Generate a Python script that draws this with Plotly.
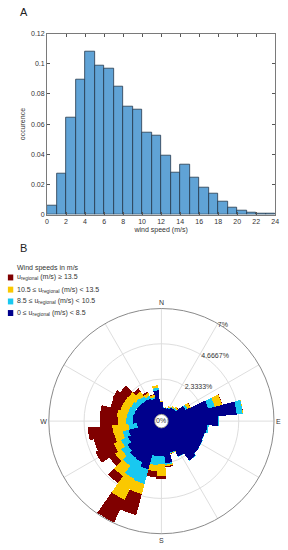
import plotly.graph_objects as go

# ---------------- data ----------------
speed_bin_left = list(range(24))
occurrence = [0.006, 0.027, 0.064, 0.0895, 0.108, 0.0988, 0.0971, 0.0851,
              0.0714, 0.0694, 0.0545, 0.0526, 0.0388, 0.0279, 0.0334, 0.0246,
              0.0177, 0.0137, 0.0085, 0.0046, 0.0024, 0.0013, 0.0009, 0.0005]
hist_xticks = list(range(0, 25, 2))
hist_yticks = [0, 0.02, 0.04, 0.06, 0.08, 0.1, 0.12]
hist_yticktext = ["0", "0.02", "0.04", "0.06", "0.08", "0.1", "0.12"]

directions = list(range(0, 360, 10))
pct_0_8_5 = [0.80, 0.45, 0.45, 0.50, 0.65, 0.70, 1.30, 2.75, 4.55, 3.30, 2.60, 2.50,
             2.55, 2.60, 2.75, 2.15, 1.70, 2.35, 1.88, 1.88, 2.85, 2.55, 2.50, 2.30,
             2.00, 1.80, 1.17, 1.45, 1.45, 1.40, 1.35, 1.30, 1.25, 1.20, 1.10, 1.60]
pct_8_5_10_5 = [0.05, 0.02, 0.03, 0.05, 0.05, 0.08, 0.15, 0.45, 0.40, 0.05, 0.10, 0.03,
                0.02, 0.02, 0.02, 0.02, 0.05, 0.10, 0.54, 0.60, 1.00, 1.20, 0.65, 0.50,
                0.50, 0.40, 0.58, 0.43, 0.40, 0.40, 0.40, 0.35, 0.30, 0.20, 0.10, 0.17]
pct_10_5_13_5 = [0.03, 0.00, 0.02, 0.10, 0.08, 0.12, 0.23, 0.50, 0.02, 0.00, 0.00, 0.00,
                 0.00, 0.00, 0.00, 0.00, 0.03, 0.10, 0.75, 0.42, 0.70, 1.55, 0.83, 0.50,
                 0.55, 0.60, 1.07, 0.54, 0.65, 0.55, 0.55, 0.60, 0.40, 0.20, 0.15, 0.17]
pct_13_5_up = [0.00, 0.00, 0.00, 0.00, 0.02, 0.02, 0.02, 0.02, 0.01, 0.00, 0.00, 0.00,
               0.00, 0.00, 0.00, 0.00, 0.02, 0.07, 0.23, 0.40, 1.45, 1.65, 0.57, 0.45,
               1.31, 1.40, 1.63, 1.18, 1.14, 0.70, 0.82, 0.63, 0.25, 0.10, 0.05, 0.00]
radial_ticks = [2.3333, 4.6667, 7]
radial_ticktext = ["2.3333%", "4.6667%", "7%"]
compass_vals = list(range(0, 360, 30))
compass_text = ["N", " ", " ", "E", " ", " ", "S", " ", " ", "W", " ", " "]

class_names = ["0 \u2264 u<sub>regional</sub> (m/s) < 8.5",
               "8.5 \u2264 u<sub>regional</sub> (m/s) < 10.5",
               "10.5 \u2264 u<sub>regional</sub> (m/s) < 13.5",
               "u<sub>regional</sub> (m/s) \u2265 13.5"]
class_colors = ["#00008c", "#19c8f0", "#fac800", "#800000"]

# ---------------- helpers (pixel -> paper) ----------------
W, H = 288, 550
def px(x):
    return x / W
def py(y):
    return 1 - y / H

FONT = "Liberation Sans, Arial, sans-serif"
TXT = "#333333"

fig = go.Figure()

# Histogram (panel A)
fig.add_trace(go.Bar(
    x=[b + 0.5 for b in speed_bin_left], y=occurrence, width=1,
    marker=dict(color="rgb(96,163,214)", line=dict(color="rgb(35,55,75)", width=0.8)),
    xaxis="x", yaxis="y", showlegend=False))

# Wind rose (panel B)
for vals, name, col in zip([pct_0_8_5, pct_8_5_10_5, pct_10_5_13_5, pct_13_5_up],
                           class_names, class_colors):
    fig.add_trace(go.Barpolar(r=vals, theta=directions, width=10, name=name,
                              marker=dict(color=col, line=dict(width=0)),
                              subplot="polar", showlegend=False))

cx, cy, R = 162.8, 422.5, 115

fig.update_layout(
    width=W, height=H,
    margin=dict(l=0, r=0, t=0, b=0),
    paper_bgcolor="white", plot_bgcolor="white",
    font=dict(family=FONT, size=7, color=TXT),
    bargap=0,
    xaxis=dict(domain=[px(46), px(279)], range=[0, 24], tickvals=hist_xticks,
               ticks="inside", ticklen=3, tickcolor="#555", showline=True, mirror="ticks",
               linecolor="#7a7a7a", linewidth=1, showgrid=False, zeroline=False,
               tickfont=dict(size=7, color=TXT),
               title=dict(text="wind speed (m/s)", font=dict(size=7, color=TXT), standoff=3)),
    yaxis=dict(domain=[py(213.3), py(30)], range=[0, 0.12], tickvals=hist_yticks,
               ticktext=hist_yticktext,
               ticks="inside", ticklen=3, tickcolor="#555", showline=True, mirror="ticks",
               linecolor="#7a7a7a", linewidth=1, showgrid=False, zeroline=False,
               tickfont=dict(size=7, color=TXT),
               title=dict(text="occurence", font=dict(size=7, color=TXT), standoff=4)),
    polar=dict(
        domain=dict(x=[px(cx - R), px(cx + R)], y=[py(cy + R), py(cy - R)]),
        hole=0.06, bgcolor="white", barmode="stack",
        angularaxis=dict(rotation=90, direction="clockwise", tickmode="array",
                         tickvals=compass_vals, ticktext=compass_text, ticks="",
                         showline=True, linecolor="#8a8a8a", linewidth=1,
                         gridcolor="#dedede", tickfont=dict(size=7, color=TXT)),
        radialaxis=dict(range=[0, 7], tickmode="array", tickvals=radial_ticks,
                        ticktext=radial_ticktext, showline=False, ticks="",
                        gridcolor="#dedede", angle=62, tickangle=62,
                        tickfont=dict(size=7, color=TXT)),
    ),
)

ann = [
    dict(text="A", x=px(16.5), y=py(8.5), xanchor="left", yanchor="middle",
         font=dict(size=11, color="#222")),
    dict(text="B", x=px(16.5), y=py(247.5), xanchor="left", yanchor="middle",
         font=dict(size=11, color="#222")),
    dict(text="0%", x=px(cx), y=py(cy - 1), xanchor="center", yanchor="middle",
         font=dict(size=7, color=TXT)),
    dict(text="Wind speeds in m/s", x=px(13.5), y=py(267), xanchor="left", yanchor="middle",
         font=dict(size=7, color=TXT)),
]
legend_rows = [277, 289.3, 301.3, 313]
legend_order = [3, 2, 1, 0]
shapes = []
for yrow, idx in zip(legend_rows, legend_order):
    ann.append(dict(text=class_names[idx], x=px(13), y=py(yrow), xanchor="left",
                    yanchor="middle", font=dict(size=7, color=TXT)))
    shapes.append(dict(type="rect", xref="paper", yref="paper",
                       x0=px(6), x1=px(11.5), y0=py(yrow + 3), y1=py(yrow - 3),
                       fillcolor=class_colors[idx], line=dict(width=0)))
for a in ann:
    a.update(xref="paper", yref="paper", showarrow=False)
fig.update_layout(annotations=ann, shapes=shapes)

fig.write_html("out.html", config={"displayModeBar": False},
               post_script="document.body.style.margin='0';document.body.style.overflow='hidden';")
